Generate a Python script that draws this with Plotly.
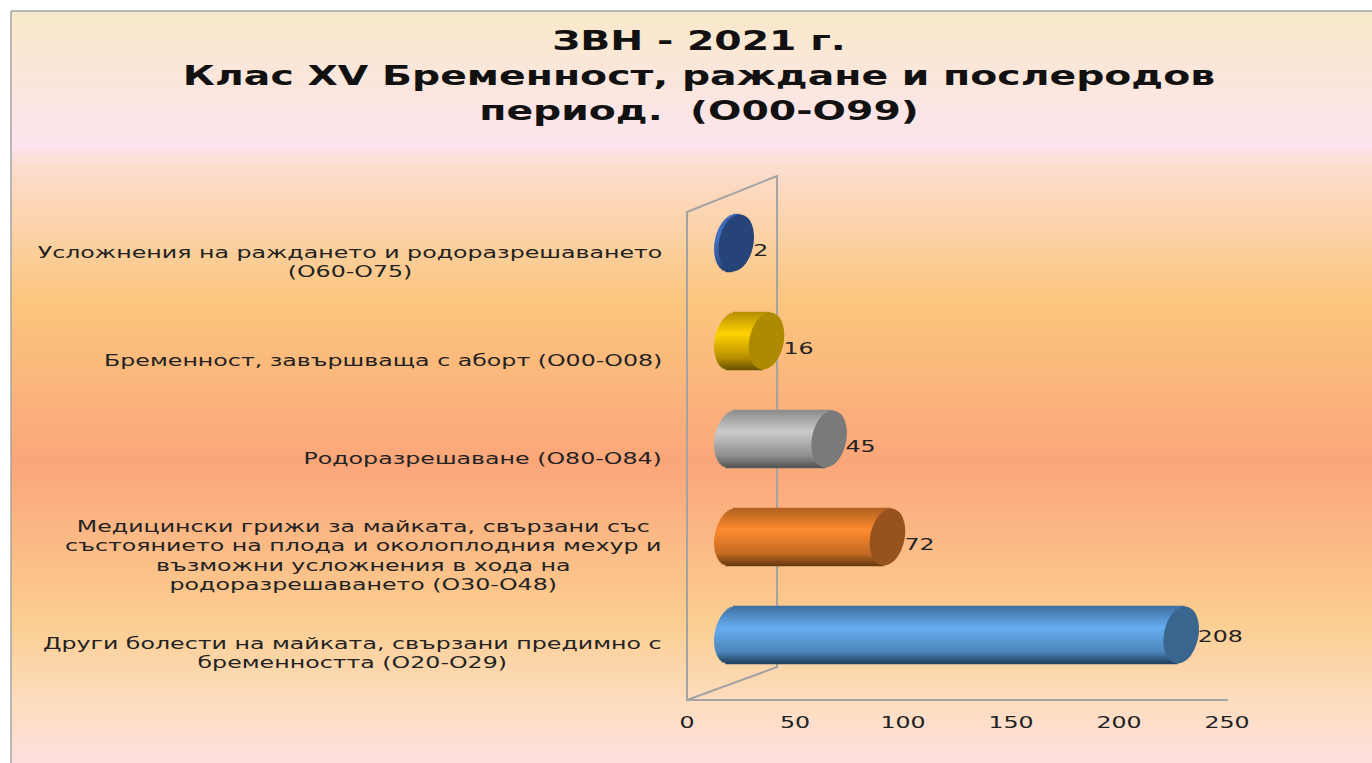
import numpy as np
import plotly.graph_objects as go

# ---------- data ----------
title_lines = ["ЗВН - 2021 г.", "Клас XV Бременност, раждане и послеродов", "период.  (О00-О99)"]
categories = [
    "Други болести на майката, свързани предимно с<br>бременността (О20-О29)",
    "Медицински грижи за майката, свързани със<br>състоянието на плода и околоплодния мехур и<br>възможни усложнения в хода на<br>родоразрешаването (О30-О48)",
    "Родоразрешаване (О80-О84)",
    "Бременност, завършваща с аборт (О00-О08)",
    "Усложнения на раждането и родоразрешаването<br>(О60-О75)",
]
values = [208, 72, 45, 16, 2]
tick_values = [0, 50, 100, 150, 200, 250]

# ---------- style ----------
W, H = 1372, 763
PX = 2.16           # px per x unit
DEPTH = 20.8        # 3-D depth offset of the cylinders, x units
RX, TILT, RY = 8.05, 1.7, 0.291
BAR_STOPS = [
    ["#3F6FA0", "#66AEF0", "#4D86BB", "#22405F"],
    ["#B0601F", "#FF8C30", "#C26A22", "#6B3A10"],
    ["#8C8C8C", "#CBCBCB", "#8F8F8F", "#555555"],
    ["#B58E00", "#FFD200", "#B89000", "#6A5400"],
    ["#3A62AE", "#4472C4", "#34589A", "#223C6A"],
]
CAP_COLORS = ["#3A658E", "#97521E", "#7A7A7A", "#AD8A00", "#264478"]
BG_STOPS = [(0.0, "#F9E9CA"), (0.178, "#FDE4EE"), (0.21, "#FCDCCB"), (0.385, "#FBC67E"),
            (0.60, "#FBA67A"), (0.81, "#FBCD90"), (0.92, "#FDDDBE"), (1.0, "#FEE0DE")]
GREY = "#A3A3A3"
FONT = "DejaVu Sans"


def hex_rgb(c):
    return np.array([int(c[i:i + 2], 16) for i in (1, 3, 5)], dtype=float)


def shade(stops, p):
    pos = [0.0, 0.38, 0.8, 1.0]
    cols = np.array([hex_rgb(c) for c in stops])
    r, g, b = [np.interp(p, pos, cols[:, j]) for j in range(3)]
    return f"rgb({r:.0f},{g:.0f},{b:.0f})"


def ellipse_path(cx, cy):
    t = np.linspace(0, 2 * np.pi, 49)[:-1]
    xs = cx + RX * np.cos(t) + TILT * np.sin(t)
    ys = cy + RY * np.sin(t)
    return "M" + "L".join(f"{a:.3f},{b:.3f}" for a, b in zip(xs, ys)) + "Z"


fig = go.Figure()

# page gradient, on its own full-page axes so that it lies under everything
bg_rows = np.linspace(1, 0, 376)
fig.add_trace(go.Heatmap(z=[[p] for p in bg_rows], colorscale=[[a, c] for a, c in BG_STOPS],
                         zmin=0, zmax=1, showscale=False, hoverinfo="skip", xaxis="x", yaxis="y"))

# cylinders: a stack of thin horizontal bars per category
N = 41
us = np.linspace(0.985, -0.985, N)
for i, v in enumerate(values):
    y, base, length, colors = [], [], [], []
    for u in us:
        left = DEPTH - RX * np.sqrt(max(0.0, 1 - u * u)) + TILT * u
        right = v + DEPTH + TILT * u
        y.append(i + u * RY)
        base.append(left)
        length.append(right - left)
        colors.append(shade(BAR_STOPS[i], (1 - u) / 2))
    fig.add_trace(go.Bar(y=y, x=length, base=base, orientation="h", width=3.2 * RY / N,
                         marker=dict(color=colors, line=dict(width=0)), hoverinfo="skip",
                         showlegend=False, xaxis="x2", yaxis="y2"))

shapes = [
    # back wall
    dict(type="path", xref="x2", yref="y2", layer="below", line=dict(color=GREY, width=2),
         path="M0,-0.663L0,4.316L41.7,4.684L41.7,-0.327Z"),
    # floor / axis line
    dict(type="line", xref="x2", yref="y2", layer="below", line=dict(color=GREY, width=2),
         x0=0, x1=250.4, y0=-0.663, y1=-0.663),
    # page frame
    dict(type="line", xref="paper", yref="paper", x0=11 / W, x1=1, y0=752 / H, y1=752 / H,
         line=dict(color=GREY, width=1.5)),
    dict(type="line", xref="paper", yref="paper", x0=11 / W, x1=11 / W, y0=0, y1=752 / H,
         line=dict(color=GREY, width=1.5)),
]
for i, v in enumerate(values):
    shapes.append(dict(type="path", xref="x2", yref="y2", layer="above", line=dict(width=0),
                       fillcolor=CAP_COLORS[i], path=ellipse_path(v + DEPTH, i)))

annotations = []
for i, (c, v) in enumerate(zip(categories, values)):
    annotations.append(dict(text=c, xref="paper", yref="y2", x=664 / W, y=i, yshift=-19.5,
                            xanchor="right", align="center", showarrow=False,
                            font=dict(family=FONT, size=15, color="#222222")))
    label = str(v)
    annotations.append(dict(text=label, xref="x2", yref="y2",
                            x=v + DEPTH + (17 + 7.3 * len(label)) / PX, y=i,
                            yshift=-2 if v > 200 else -8, xanchor="center", showarrow=False,
                            font=dict(family=FONT, size=15, color="#222222")))

fig.update_layout(
    width=W, height=H, autosize=False, barmode="overlay", showlegend=False,
    margin=dict(l=0, r=0, t=0, b=0), paper_bgcolor="white", plot_bgcolor="rgba(0,0,0,0)",
    title=dict(text="<br>".join(title_lines), x=699 / W, xanchor="center",
               y=1 - 50 / H, yanchor="top",
               font=dict(family=FONT, size=27, color="#111111", weight="bold")),
    xaxis=dict(domain=[11 / W, 1], range=[-0.5, 0.5], visible=False, fixedrange=True),
    yaxis=dict(domain=[0, 752 / H], range=[-0.5, len(bg_rows) - 0.5], visible=False, fixedrange=True),
    xaxis2=dict(domain=[676 / W, 1240 / W], range=[-(687 - 676) / PX, 250 + (1240 - 1227) / PX],
                anchor="free", position=(H - 700) / H, tickvals=tick_values, showgrid=False,
                zeroline=False, showline=False, ticks="", ticklabelstandoff=12,
                tickfont=dict(family=FONT, size=15, color="#222222")),
    yaxis2=dict(domain=[(H - 713) / H, (H - 165) / H], range=[-0.796, 4.796], anchor="x2",
                visible=False, showgrid=False, zeroline=False),
    shapes=shapes, annotations=annotations,
)

# The reference's text is stretched horizontally; widen the real text elements to match.
stretch_js = """
document.body.style.margin = '0';
var gd = document.getElementById('{plot_id}');
function widen(el, s, edge) {
  var t = el.getAttribute('transform') || '';
  if (t.indexOf('scale(') >= 0) return;
  var b = el.getBBox();
  var cx = edge ? b.x + b.width : b.x + b.width / 2;
  el.setAttribute('transform', t + ' translate(' + cx + ',0) scale(' + s + ',1) translate(' + (-cx) + ',0)');
}
function stretchAll() {
  gd.querySelectorAll('.gtitle').forEach(function (e) { widen(e, 1.458, false); });
  gd.querySelectorAll('.x2tick text').forEach(function (e) { widen(e, 1.58, false); });
  gd.querySelectorAll('.annotation-text').forEach(function (e) {
    widen(e, 1.58, /[^0-9]/.test(e.textContent));
  });
}
stretchAll();
gd.on('plotly_afterplot', stretchAll);
setTimeout(stretchAll, 100);
setTimeout(stretchAll, 500);
"""

fig.write_html("out.html", post_script=stretch_js, config=dict(displayModeBar=False))
